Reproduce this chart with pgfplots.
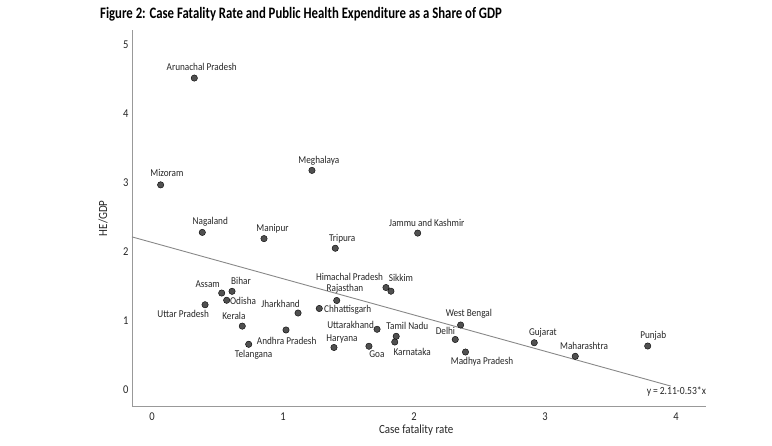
\documentclass[border=0pt]{standalone}
\usepackage{pgfplots}
\pgfplotsset{compat=1.18}
\usepackage{pgfplotstable}
\usepackage{fontspec}
\setmainfont{Carlito}[FakeStretch=0.88]
\newfontfamily\titlefont{Carlito}[FakeStretch=0.8]
\definecolor{dotgray}{HTML}{505050}
\definecolor{labgray}{HTML}{262626}
\definecolor{axgray}{HTML}{999999}
\definecolor{linegray}{HTML}{888888}

% state points: case fatality rate, HE/GDP
\pgfplotstableread[col sep=comma]{
x,y,state
0.323,4.52,Arunachal Pradesh
0.066,2.97,Mizoram
1.221,3.18,Meghalaya
0.384,2.28,Nagaland
0.855,2.19,Manipur
1.399,2.05,Tripura
2.028,2.27,Jammu and Kashmir
0.532,1.40,Assam
0.611,1.425,Bihar
0.570,1.295,Odisha
0.405,1.23,Uttar Pradesh
1.115,1.11,Jharkhand
0.689,0.92,Kerala
1.023,0.864,Andhra Pradesh
0.738,0.656,Telangana
1.277,1.176,Chhattisgarh
1.41,1.292,Rajasthan
1.786,1.48,Himachal Pradesh
1.824,1.427,Sikkim
1.718,0.874,Uttarakhand
1.864,0.772,Tamil Nadu
1.853,0.689,Karnataka
1.389,0.61,Haryana
1.656,0.628,Goa
2.356,0.936,West Bengal
2.315,0.726,Delhi
2.393,0.544,Madhya Pradesh
2.918,0.679,Gujarat
3.231,0.482,Maharashtra
3.784,0.631,Punjab
}\points

% label positions (centred labels)
\pgfplotstableread[col sep=comma]{
x,y,label
0.3795,4.675,Arunachal Pradesh
0.114,3.144,Mizoram
1.274,3.321,Meghalaya
0.445,2.430,Nagaland
0.920,2.335,Manipur
1.452,2.195,Tripura
2.097,2.415,Jammu and Kashmir
1.028,0.704,Andhra Pradesh
0.776,0.511,Telangana
1.473,1.466,Rajasthan
1.450,0.733,Haryana
2.419,1.106,West Bengal
2.984,0.830,Gujarat
3.298,0.636,Maharashtra
3.826,0.781,Punjab
}\labC

% labels ending at the given position (right-aligned)
\pgfplotstableread[col sep=comma]{
x,y,label
0.519,1.531,Assam
0.4355,1.095,Uttar Pradesh
1.130,1.241,Jharkhand
0.715,1.070,Kerala
1.765,1.637,Himachal Pradesh
1.695,0.939,Uttarakhand
2.315,0.854,Delhi
}\labE

% labels starting at the given position (left-aligned)
\pgfplotstableread[col sep=comma]{
x,y,label
0.603,1.579,Bihar
0.595,1.285,Odisha
1.313,1.154,Chhattisgarh
1.806,1.623,Sikkim
1.788,0.917,Tamil Nadu
1.842,0.548,Karnataka
1.658,0.512,Goa
2.280,0.409,Madhya Pradesh
}\labW

\begin{document}
\begin{tikzpicture}[x=1bp,y=1bp]
\useasboundingbox (0,0) rectangle (772,-446);
\begin{axis}[
  at={(152bp,-389.5bp)}, anchor=origin,
  x=131bp, y=68.9bp,
  xmin=-0.153, xmax=4.23, ymin=-0.25, ymax=5.22,
  axis x line*=bottom, axis y line*=left,
  axis line style={axgray, line width=0.9bp},
  xtick={0,1,2,3,4}, ytick={0,1,2,3,4,5},
  major tick length=0pt,
  /pgf/number format/assume math mode=true,
  tick label style={font=\fontsize{12}{13}\selectfont, text=labgray},
  xticklabel style={yshift=-2.5bp},
  xlabel={Case fatality rate},
  ylabel={HE/GDP},
  label style={font=\fontsize{12.5}{14}\selectfont, text=labgray},
  xlabel style={at={(axis description cs:0.495,-0.062)}, anchor=center},
  ylabel style={at={(axis description cs:-0.0505,0.5)}, anchor=center},
  clip=false,
  lab/.style={draw=none, mark=none, point meta=explicit symbolic, nodes near coords,
    every node near coord/.append style={anchor=#1, inner sep=0pt,
      font=\fontsize{10.5}{12}\selectfont, text=labgray}},
]
\addplot[linegray, line width=0.9bp] coordinates {(-0.153,2.215) (3.96,0.05)};
\addplot[only marks, mark=*, mark size=3.2bp, mark options={fill=dotgray, draw=none}]
  table[x=x, y=y] {\points};
\addplot[lab=center] table[x=x, y=y, meta=label] {\labC};
\addplot[lab=east] table[x=x, y=y, meta=label] {\labE};
\addplot[lab=west] table[x=x, y=y, meta=label] {\labW};
\node[anchor=east, inner sep=0pt, font=\fontsize{11}{12}\selectfont, text=labgray]
  at (axis cs:4.23,-0.022) {y\,=\,2.11-0.53*x};
\end{axis}
\node[anchor=west, inner sep=0pt, font=\titlefont\bfseries\fontsize{16}{18}\selectfont]
  at (100,-14) {Figure 2: Case Fatality Rate and Public Health Expenditure as a Share of GDP};
\end{tikzpicture}
\end{document}
